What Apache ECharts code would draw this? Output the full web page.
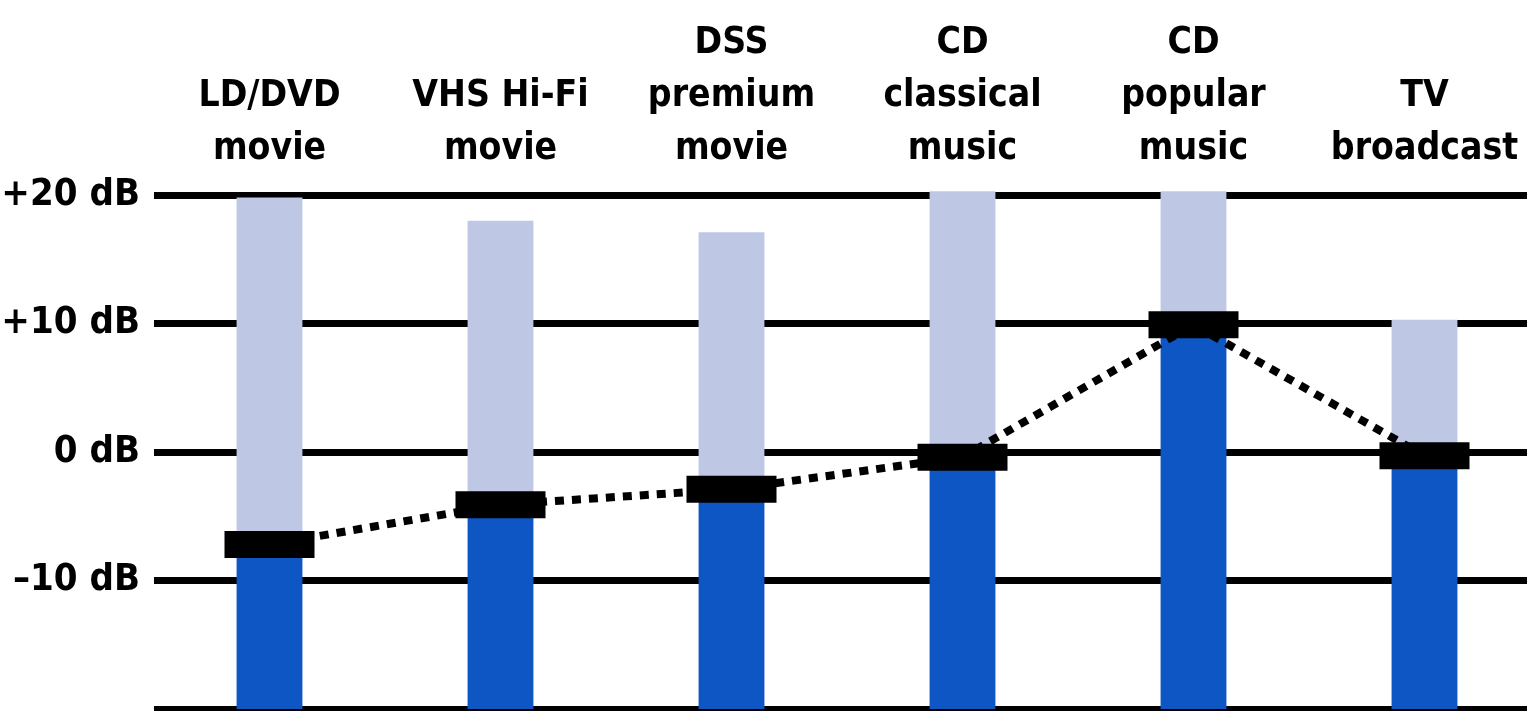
<!DOCTYPE html>
<html>
<head>
<meta charset="utf-8">
<style>
html, body { margin: 0; padding: 0; background: #fff; }
#main { width: 1527px; height: 711px; }
</style>
<script src="https://cdn.jsdelivr.net/npm/echarts@6/dist/echarts.min.js"></script>
</head>
<body>
<div id="main"></div>
<script>
var categories = ['LD/DVD\nmovie', 'VHS Hi-Fi\nmovie', 'DSS\npremium\nmovie', 'CD\nclassical\nmusic', 'CD\npopular\nmusic', 'TV\nbroadcast'];
var averageLevel = [-7.2, -4.1, -2.9, -0.4, 9.9, -0.3];
var peakLevel = [19.8, 18.0, 17.1, 20.3, 20.3, 10.3];
var yTicks = [-10, 0, 10, 20];
var yTickLabels = ['\u201310 dB', '0 dB', '+10 dB', '+20 dB'];
var floorLevel = -20;
var topLevel = 20;

var font = '"DejaVu Sans Condensed", "DejaVu Sans", sans-serif';

// dark part: floor -> average, light part: average -> peak
var lowerPart = categories.map(function (c, i) { return [i, floorLevel, averageLevel[i]]; });
var upperPart = categories.map(function (c, i) { return [i, averageLevel[i], peakLevel[i]]; });

function renderBar(params, api) {
  var lo = api.coord([api.value(0), api.value(1)]);
  var hi = api.coord([api.value(0), api.value(2)]);
  var w = api.size([1, 0])[0] * 0.285;
  return {
    type: 'rect',
    shape: { x: lo[0] - w / 2, y: hi[1], width: w, height: lo[1] - hi[1] },
    style: { fill: api.visual('color') }
  };
}

var myChart = echarts.init(document.getElementById('main'));
var option = {
  animation: false,
  backgroundColor: '#fff',
  grid: { left: 154, top: 195, width: 1386, height: 514, outerBoundsMode: 'none', containLabel: false },
  xAxis: {
    type: 'category',
    position: 'top',
    data: categories,
    axisLine: { show: false },
    axisTick: { show: false },
    axisLabel: {
      interval: 0,
      margin: 19,
      color: '#000',
      fontFamily: font,
      fontWeight: 'bold',
      fontSize: 37,
      lineHeight: 53
    }
  },
  yAxis: {
    type: 'value',
    min: floorLevel,
    max: topLevel,
    interval: 10,
    axisLine: { show: false },
    axisTick: { show: false },
    splitLine: { lineStyle: { color: '#000', width: 7 } },
    axisLabel: {
      showMinLabel: false,
      margin: 14,
      color: '#000',
      fontFamily: font,
      fontWeight: 'bold',
      fontSize: 38,
      formatter: function (v) {
        var k = yTicks.indexOf(v);
        return k < 0 ? '' : yTickLabels[k];
      }
    }
  },
  series: [{
    name: 'average',
    type: 'custom',
    renderItem: renderBar,
    itemStyle: { color: '#0E56C4' },
    encode: { x: 0, y: [1, 2] },
    data: lowerPart,
    z: 2
  }, {
    name: 'peak',
    type: 'custom',
    renderItem: renderBar,
    itemStyle: { color: '#BEC8E4' },
    encode: { x: 0, y: [1, 2] },
    data: upperPart,
    z: 2
  }, {
    name: 'link',
    type: 'line',
    data: averageLevel,
    symbol: 'none',
    lineStyle: { color: '#000', width: 8, type: [9, 8] },
    z: 3
  }, {
    name: 'marker',
    type: 'scatter',
    data: averageLevel,
    symbol: 'rect',
    symbolSize: [90, 27],
    itemStyle: { color: '#000', opacity: 1 },
    z: 4
  }]
};
myChart.setOption(option);
</script>
</body>
</html>
